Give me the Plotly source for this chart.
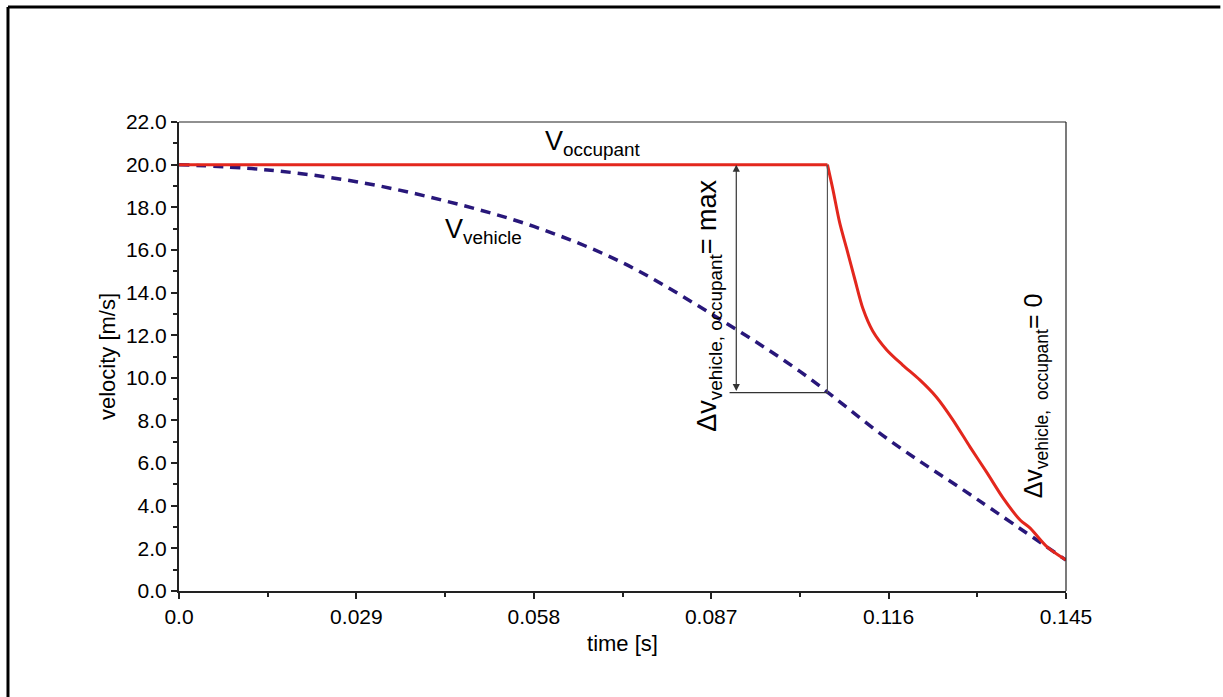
import numpy as np
import plotly.graph_objects as go

# ---- data ----
t_vehicle = [0.0, 0.0145, 0.029, 0.0435, 0.058, 0.0725, 0.087, 0.1015, 0.116, 0.1305, 0.145]
v_vehicle = [20.0, 19.75, 19.2, 18.3, 17.1, 15.4, 13.0, 10.3, 7.1, 4.3, 1.45]

t_occupant = [0.0, 0.1060, 0.1069, 0.1080, 0.1092, 0.1105, 0.1118, 0.1134, 0.1157, 0.1183, 0.1211,
              0.1238, 0.1265, 0.1293, 0.1321, 0.1347, 0.1375, 0.1391, 0.1419, 0.1450]
v_occupant = [20.0, 20.0, 18.83, 17.28, 16.0, 14.6, 13.25, 12.2, 11.31, 10.6, 9.9,
              9.1, 8.03, 6.76, 5.54, 4.37, 3.33, 2.96, 2.07, 1.45]

x_tickvals = [0.0, 0.029, 0.058, 0.087, 0.116, 0.145]
x_ticktext = ["0.0", "0.029", "0.058", "0.087", "0.116", "0.145"]
y_tickvals = [0, 2, 4, 6, 8, 10, 12, 14, 16, 18, 20, 22]

t_break = t_occupant[1]
v_break_vehicle = float(np.interp(t_break, t_vehicle, v_vehicle))
v_top = v_occupant[0]
t_arrow = 0.0911
t_hline_start = 0.0900

RED = "#e3271d"
NAVY = "#28177a"
FONT = "Liberation Sans, Arial, Helvetica, sans-serif"

fig = go.Figure()
fig.add_trace(go.Scatter(x=t_vehicle, y=v_vehicle, mode="lines",
                         line=dict(color=NAVY, width=3.5, dash="10px,7px", shape="spline", smoothing=1.0),
                         hoverinfo="skip", showlegend=False))
# occupant: flat phase then the drop
fig.add_trace(go.Scatter(x=t_occupant[:2], y=v_occupant[:2], mode="lines",
                         line=dict(color=RED, width=3),
                         hoverinfo="skip", showlegend=False))
fig.add_trace(go.Scatter(x=t_occupant[1:], y=v_occupant[1:], mode="lines",
                         line=dict(color=RED, width=3, shape="spline", smoothing=0.8),
                         hoverinfo="skip", showlegend=False))

# bracket
fig.add_shape(type="line", xref="x", yref="y", x0=t_hline_start, x1=t_break,
              y0=v_break_vehicle, y1=v_break_vehicle, line=dict(color="#333333", width=1.2))
fig.add_shape(type="line", xref="x", yref="y", x0=t_break, x1=t_break,
              y0=v_break_vehicle, y1=v_top, line=dict(color="#555555", width=1.2))
fig.add_annotation(x=t_arrow, y=v_top, ax=t_arrow, ay=v_break_vehicle, axref="x", ayref="y",
                   xref="x", yref="y", text="", showarrow=True, arrowside="end+start",
                   arrowhead=2, arrowsize=1.2, arrowwidth=1.2, arrowcolor="#333333",
                   standoff=0, startstandoff=0)

# plot frame top/right (thin)
fig.add_shape(type="line", xref="paper", yref="paper", x0=0, x1=1, y0=1, y1=1,
              line=dict(color="#222222", width=1.2))
fig.add_shape(type="line", xref="paper", yref="paper", x0=1, x1=1, y0=0, y1=1,
              line=dict(color="#222222", width=1.2))
# outer border (top and left edges only are visible)
fig.add_shape(type="line", xref="paper", yref="paper", x0=-0.1928, x1=1.174, y0=1.2452, y1=1.2452,
              line=dict(color="black", width=3))
fig.add_shape(type="line", xref="paper", yref="paper", x0=-0.1928, x1=-0.1928, y0=-0.6, y1=1.2452,
              line=dict(color="black", width=3))

# labels
fig.add_annotation(x=0.0676, y=21.0, xref="x", yref="y", text="V<sub>occupant</sub>",
                   showarrow=False, font=dict(family=FONT, size=27, color="black"))
fig.add_annotation(x=0.0498, y=16.9, xref="x", yref="y", text="V<sub>vehicle</sub>",
                   showarrow=False, font=dict(family=FONT, size=27, color="black"))
fig.add_annotation(x=0.0867, y=13.4, xref="x", yref="y", text="Δv<sub>vehicle, occupant</sub>= max",
                   showarrow=False, textangle=-90, font=dict(family=FONT, size=27, color="black"))
fig.add_annotation(x=0.1400, y=9.15, xref="x", yref="y", text="Δv<sub>vehicle,  occupant</sub>= 0",
                   showarrow=False, textangle=-90, font=dict(family=FONT, size=25, color="black"))

fig.update_layout(
    width=1223, height=697, autosize=False,
    margin=dict(l=179, r=157, t=122, b=106),
    paper_bgcolor="white", plot_bgcolor="white",
    font=dict(family=FONT, size=21, color="black"),
    showlegend=False,
)
fig.update_xaxes(range=[0, 0.145], showgrid=False, zeroline=False, showline=True,
                 linecolor="#222222", linewidth=2, ticks="outside", ticklen=6, tickwidth=1.5,
                 tickcolor="#222222", tickvals=x_tickvals, ticktext=x_ticktext,
                 tickfont=dict(size=21),
                 minor=dict(ticks="outside", ticklen=4, tickwidth=1.5, tickcolor="#222222", dtick=0.0145),
                 title=dict(text="time [s]", font=dict(size=22), standoff=8))
fig.update_yaxes(range=[0, 22], showgrid=False, zeroline=False, showline=True,
                 linecolor="#222222", linewidth=2, ticks="outside", ticklen=6, tickwidth=1.5,
                 tickcolor="#222222", tickvals=y_tickvals, tickformat=".1f",
                 tickfont=dict(size=21),
                 minor=dict(ticks="outside", ticklen=4, tickwidth=1.5, tickcolor="#222222", dtick=1),
                 title=dict(text="velocity [m/s]", font=dict(size=22), standoff=4))

fig.write_html("out.html")
